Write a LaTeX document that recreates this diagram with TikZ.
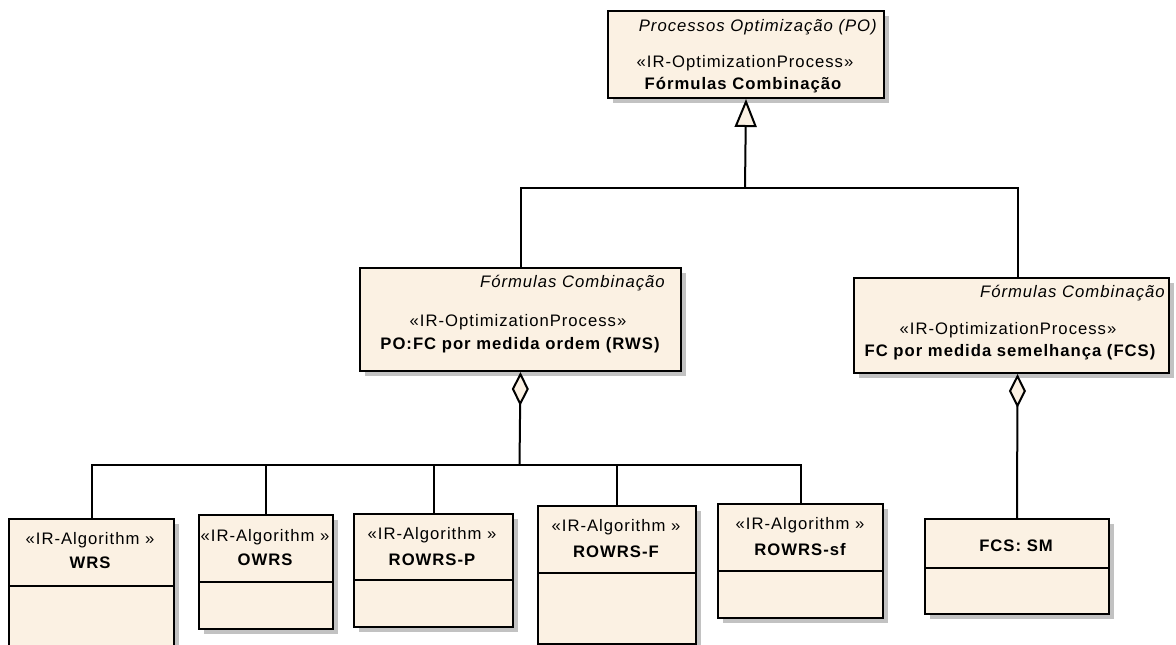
\documentclass[tikz,border=0pt]{standalone}
\usepackage{fontspec}
\newfontfamily\umlfont{Liberation Sans}[LetterSpace=6]
\usetikzlibrary{arrows.meta,shadows}

\newlength{\du}
\setlength{\du}{0.75pt}

\definecolor{umlfill}{rgb}{0.984, 0.945, 0.890}
\definecolor{umlshade}{rgb}{0.760, 0.760, 0.760}

\tikzset{
  umlbox/.style={draw=black, fill=umlfill, line width=2\du, rectangle, anchor=north west, inner sep=0pt,
    drop shadow={shadow xshift=5\du, shadow yshift=-5\du, fill=umlshade, opacity=1}},
  umltext/.style={inner sep=0pt, font=\umlfont\fontsize{12.5}{14}\selectfont},
  umltitle/.style={umltext, font=\umlfont\fontsize{12.5}{14}\selectfont\itshape, anchor=east},
  umlname/.style={umltext, font=\umlfont\fontsize{12.5}{14}\selectfont\bfseries},
  umlline/.style={draw=black, line width=2\du},
  generalize/.style={umlline, -{Triangle[width=16.5pt, length=21pt, fill=umlfill, line width=1.5pt]}},
  aggregate/.style={umlline, {Diamond[width=12.75pt, length=25.5pt, fill=umlfill, line width=1.5pt]}-}
}

\begin{document}
\begin{tikzpicture}[yscale=-1]
\useasboundingbox (0,0) rectangle (1176\du,644\du);

% top process
\node[umlbox, minimum width=276\du, minimum height=87\du] (po) at (607\du,10\du) {};
\node[umltitle] (po-title) at (877\du,27\du) {Processos Optimização (PO)};
\node[umltext] (po-st) at (745\du,63\du) {«IR-OptimizationProcess»};
\node[umlname] (po-name) at (743\du,85\du) {Fórmulas Combinação};

% middle processes
\node[umlbox, minimum width=321\du, minimum height=103\du] (rws) at (359\du,267\du) {};
\node[umltitle] (rws-title) at (665\du,283\du) {Fórmulas Combinação};
\node[umltext] (rws-st) at (518\du,322\du) {«IR-OptimizationProcess»};
\node[umlname] (rws-name) at (520\du,345\du) {PO:FC por medida ordem (RWS)};

\node[umlbox, minimum width=315\du, minimum height=95\du] (fcs) at (853\du,277\du) {};
\node[umltitle] (fcs-title) at (1165\du,293\du) {Fórmulas Combinação};
\node[umltext] (fcs-st) at (1008\du,330\du) {«IR-OptimizationProcess»};
\node[umlname] (fcs-name) at (1010\du,352\du) {FC por medida semelhança (FCS)};

% algorithms
\node[umlbox, minimum width=165\du, minimum height=150\du] (wrs) at (8\du,518\du) {};
\draw[umlline] ([yshift=68\du]wrs.north west) -- ([yshift=68\du]wrs.north east);
\node[umltext] (wrs-st) at (90\du,540\du) {«IR-Algorithm »};
\node[umlname] (wrs-name) at (90\du,563\du) {WRS};

\node[umlbox, minimum width=134\du, minimum height=114\du] (owrs) at (198\du,514\du) {};
\draw[umlline] ([yshift=68\du]owrs.north west) -- ([yshift=68\du]owrs.north east);
\node[umltext] (owrs-st) at (265\du,537\du) {«IR-Algorithm »};
\node[umlname] (owrs-name) at (265\du,560\du) {OWRS};

\node[umlbox, minimum width=159\du, minimum height=113\du] (rowrsp) at (353\du,513\du) {};
\draw[umlline] ([yshift=67\du]rowrsp.north west) -- ([yshift=67\du]rowrsp.north east);
\node[umltext] (rowrsp-st) at (432\du,535\du) {«IR-Algorithm »};
\node[umlname] (rowrsp-name) at (432\du,560\du) {ROWRS-P};

\node[umlbox, minimum width=158\du, minimum height=138\du] (rowrsf) at (537\du,505\du) {};
\draw[umlline] ([yshift=68\du]rowrsf.north west) -- ([yshift=68\du]rowrsf.north east);
\node[umltext] (rowrsf-st) at (616\du,527\du) {«IR-Algorithm »};
\node[umlname] (rowrsf-name) at (616\du,552\du) {ROWRS-F};

\node[umlbox, minimum width=165\du, minimum height=114\du] (rowrssf) at (717\du,503\du) {};
\draw[umlline] ([yshift=68\du]rowrssf.north west) -- ([yshift=68\du]rowrssf.north east);
\node[umltext] (rowrssf-st) at (800\du,525\du) {«IR-Algorithm »};
\node[umlname] (rowrssf-name) at (800\du,550\du) {ROWRS-sf};

\node[umlbox, minimum width=184\du, minimum height=95\du] (fcssm) at (924\du,518\du) {};
\draw[umlline] ([yshift=50\du]fcssm.north west) -- ([yshift=50\du]fcssm.north east);
\node[umlname] (fcssm-name) at (1016\du,546\du) {FCS: SM};

% generalization
\coordinate (gen) at (745\du,188\du);
\draw[generalize] (gen) -- (po.south);
\draw[umlline] (gen) -| (rws.north);
\draw[umlline] (gen) -| ([xshift=6\du]fcs.north);

% aggregation
\coordinate (bus) at (519.5\du,465\du);
\draw[aggregate] (rws.south) -- (bus);
\draw[umlline] (bus) -| (wrs.north);
\draw[umlline] (bus) -| (owrs.north);
\draw[umlline] (bus) -| (rowrsp.north);
\draw[umlline] (bus) -| (rowrsf.north);
\draw[umlline] (bus) -| (rowrssf.north);
\draw[aggregate] ([xshift=6\du]fcs.south) -- (fcssm.north);
\end{tikzpicture}
\end{document}
